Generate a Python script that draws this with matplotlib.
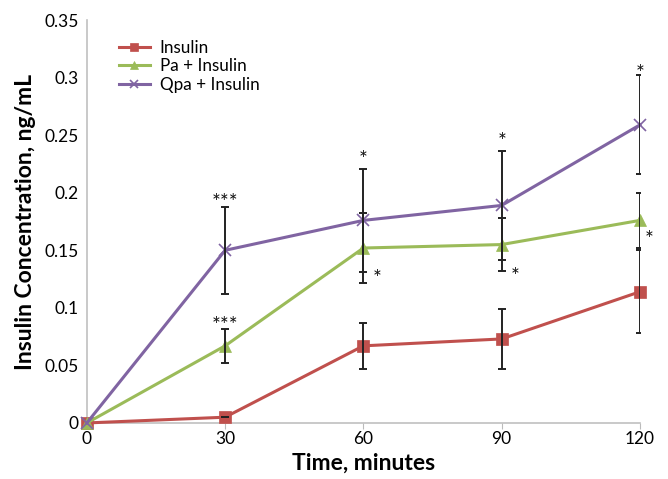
import matplotlib as mpl
import matplotlib.pyplot as plt

mpl.rcParams['font.family'] = ['Lato', 'DejaVu Sans']

# data
time = [0, 30, 60, 90, 120]

insulin = [0.0, 0.005, 0.067, 0.073, 0.114]
insulin_err = [0, 0, 0.020, 0.026, 0.036]

pa_insulin = [0.0, 0.067, 0.152, 0.155, 0.176]
pa_err = [0, 0.015, 0.030, 0.023, 0.024]

qpa_insulin = [0.0, 0.150, 0.176, 0.189, 0.259]
qpa_err = [0, 0.038, 0.045, 0.047, 0.043]

# significance marks: (x, y centre, text)
stars = [
    (30, 0.196, '***'), (30, 0.089, '***'),
    (60, 0.233, '*'), (63, 0.130, '*'),
    (90, 0.249, '*'), (93, 0.132, '*'),
    (120, 0.308, '*'), (122, 0.164, '*'),
]

series = [
    ('Insulin', insulin, insulin_err, '#C0504D', 's', 9),
    ('Pa + Insulin', pa_insulin, pa_err, '#9BBB59', '^', 9),
    ('Qpa + Insulin', qpa_insulin, qpa_err, '#8064A2', 'x', 9),
]

fig = plt.figure(figsize=(6.68, 4.79), dpi=100)
ax = fig.add_axes([0.130, 0.117, 0.828, 0.841])

for name, vals, err, col, mk, ms in series:
    ax.plot(time, vals, color=col, lw=2.2, marker=mk, markersize=ms,
            markeredgewidth=1.2 if mk == 'x' else 0.5, label=name,
            zorder=3, clip_on=False)
for name, vals, err, col, mk, ms in series:
    ax.errorbar(time[1:], vals[1:], yerr=err[1:], fmt='none', ecolor='#222222',
                elinewidth=1.4, capsize=3, capthick=1.4, zorder=4)

# star glyph centre sits ~0.009 above the baseline
for x, y, s in stars:
    ax.text(x, y - 0.010, s, ha='center', va='baseline', fontsize=15, color='#111111')

ax.set_xlim(0, 120)
ax.set_ylim(0, 0.35)
ax.set_xticks(time)
ax.set_yticks([0, 0.05, 0.1, 0.15, 0.2, 0.25, 0.3, 0.35])
ax.set_yticklabels(['0', '0.05', '0.1', '0.15', '0.2', '0.25', '0.3', '0.35'])
ax.tick_params(axis='both', labelsize=12.5, length=0, pad=6)
ax.tick_params(axis='x', length=4, color='#bbbbbb', direction='out', pad=2)

for sp in ['top', 'right']:
    ax.spines[sp].set_visible(False)
for sp in ['left', 'bottom']:
    ax.spines[sp].set_color('#c0c0c0')
    ax.spines[sp].set_linewidth(1.2)

ax.set_xlabel('Time, minutes', fontsize=16.5, fontweight='bold', labelpad=4)
ax.set_ylabel('Insulin Concentration, ng/mL', fontsize=16.5, fontweight='bold', labelpad=6)

ax.legend(loc='upper left', bbox_to_anchor=(0.03, 0.99), frameon=False, fontsize=12.3,
          handlelength=1.8, handletextpad=0.6, labelspacing=0.15, markerscale=0.6)

fig.savefig('out.png', dpi=100)
